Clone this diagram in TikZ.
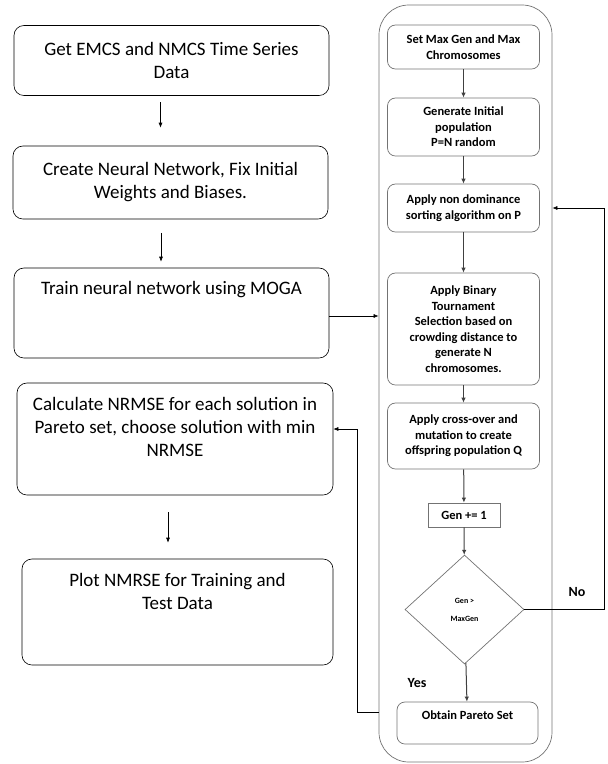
\documentclass[tikz,border=0pt]{standalone}
\usepackage{fontspec}
\setmainfont{Carlito}
\usetikzlibrary{arrows.meta,positioning,shapes.geometric}
\tikzset{
  stage/.style={
    draw,
    rounded corners=3.5mm,
    line width=0.6pt,
    align=center,
    font=\fontsize{19}{23}\selectfont,
    inner sep=0pt
  },
  topnote/.style={
    anchor=north,
    align=center,
    font=\fontsize{19}{23}\selectfont,
    inner sep=0pt
  },
  gabox/.style={
    draw=black!55,
    rounded corners=2.8mm,
    line width=0.7pt,
    align=center,
    font=\bfseries\fontsize{12.5}{15.5}\selectfont,
    minimum width=152pt,
    inner sep=0pt
  },
  flow/.style={-{Latex[length=5pt,width=4pt]}, line width=0.6pt},
  gaflow/.style={-{Latex[length=5pt,width=4.5pt]}, draw=black!75, line width=1pt},
  answer/.style={font=\bfseries\fontsize{14}{16}\selectfont}
}

\begin{document}
\begin{tikzpicture}[x=1pt, y=-1pt]
  \useasboundingbox (0,0) rectangle (608,764);

  % loop of the genetic algorithm
  \node[draw=black!55, line width=0.7pt, rounded corners=10.5mm, minimum width=173pt, minimum height=757pt] (loop) at (465.5,383.5) {};

  % left column
  \node[stage, minimum width=315pt, minimum height=70pt] (data) at (171.5,60.5) {Get EMCS and NMCS Time Series\\Data};
  \node[stage, minimum width=315pt, minimum height=73pt] (net) at (170.5,182.5) {Create Neural Network, Fix Initial\\Weights and Biases.};
  \node[stage, minimum width=315pt, minimum height=90pt,
    label={[topnote, yshift=-13pt]north:Train neural network using MOGA}] (train) at (171.5,313) {};
  \node[stage, minimum width=316pt, minimum height=112pt,
    label={[topnote, yshift=-14pt]north:{Calculate NRMSE for each solution in\\Pareto set, choose solution with min\\NRMSE}}] (nrmse) at (175,439) {};
  \node[stage, minimum width=311pt, minimum height=106pt,
    label={[topnote, yshift=-14pt]north:{Plot NMRSE for Training and\\Test Data}}] (plot) at (177.5,612) {};

  % right column
  \node[gabox, minimum height=44pt] (maxgen) at (463.5,47) {Set Max Gen and Max\\Chromosomes};
  \node[gabox, minimum height=58pt] (init) at (463.5,127) {Generate Initial\\population\\P=N random};
  \node[gabox, minimum height=48pt] (sortp) at (463.5,208) {Apply non dominance\\sorting algorithm on P};
  \node[gabox, minimum height=112pt] (select) at (463.5,329) {Apply Binary\\Tournament\\Selection based on\\crowding distance to\\generate N\\chromosomes.};
  \node[gabox, minimum height=66pt] (cross) at (463.5,436) {Apply cross-over and\\mutation to create\\offspring population Q};
  \node[gabox, rounded corners=0pt, minimum width=72pt, minimum height=24pt] (incr) at (464,515) {Gen += 1};
  \node[diamond, draw=black!55, line width=0.7pt, minimum width=119pt, minimum height=109pt, inner sep=0pt,
    align=center, font=\bfseries\fontsize{8}{10}\selectfont] (test) at (464.5,609.5) {Gen >\\[8pt]MaxGen};
  \node[gabox, minimum width=141pt, minimum height=42pt,
    label={[anchor=north, inner sep=0pt, yshift=-9pt, font=\bfseries\fontsize{12.5}{15.5}\selectfont]north:Obtain Pareto Set}] (pareto) at (467.5,723) {};

  \node[answer] (no) at (577,592) {No};
  \node[answer] (yes) at (417,683) {Yes};

  % left arrows
  \draw[flow, shorten <=6.5pt, shorten >=18pt] ([xshift=-11pt]data.south) -- ([xshift=-11pt]data.south |- net.north);
  \draw[flow, shorten <=13.5pt, shorten >=6pt] ([xshift=-9.5pt]net.south) -- ([xshift=-9.5pt]net.south |- train.north);
  \draw[flow, shorten <=17pt, shorten >=16pt] ([xshift=-7pt]nrmse.south) -- ([xshift=-7pt]nrmse.south |- plot.north);
  \draw[flow] (train.east |- 0,316) -- (loop.west |- 0,316);

  % right arrows
  \draw[gaflow] (maxgen) -- (init);
  \draw[gaflow] (init) -- (sortp);
  \draw[gaflow] (sortp) -- (select);
  \draw[gaflow] (select) -- (cross);
  \draw[gaflow] (cross) -- (incr);
  \draw[gaflow] (incr) -- (test);
  \draw[gaflow] (test) -- (pareto);

  % feedback lines
  \draw[flow] (test.east) -- (604,609.5) |- (loop.east |- sortp.east);
  \draw[flow] (loop.west |- 0,712) -- (357,712) |- ([yshift=10pt]nrmse.east);
\end{tikzpicture}
\end{document}
